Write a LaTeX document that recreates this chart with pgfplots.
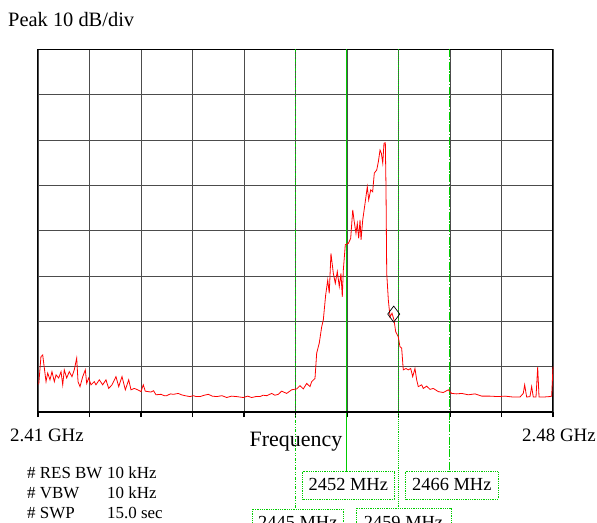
\documentclass[border=0pt]{standalone}
\usepackage{fontspec}
\setmainfont{Liberation Serif}
\usepackage{pgfplots}
\pgfplotsset{compat=1.18}
\definecolor{mkgreen}{RGB}{0,204,0}
\definecolor{trace}{RGB}{255,0,0}

\begin{document}
\begin{tikzpicture}
\useasboundingbox (0,0) rectangle (597bp,-523bp);
\begin{axis}[
    at={(38bp,-412bp)}, anchor=south west,
    scale only axis, width=515bp, height=362.6bp,
    xmin=2410, xmax=2480, ymin=-80, ymax=0,
    xtick={2410,2417,...,2480}, ytick={-80,-70,...,0},
    xticklabels={}, yticklabels={},
    grid=major, grid style={black!70, line width=0.9bp},
    axis line style={black, line width=1bp},
    tick align=outside, xtick pos=left,
    major tick length=5bp,
    xtick style={black, line width=1.6bp},
    ytick style={draw=none},
    clip=false,
    ]
    % marker lines (and their leaders down to the boxes)
    \draw[mkgreen, line width=0.9bp, dash pattern=on 3bp off 1.5bp on 1bp off 1.5bp on 1bp off 1.5bp] (axis cs:2445,0) -- (axis cs:2445,-101.4);
    \draw[mkgreen, line width=1bp] (axis cs:2452,0) -- (axis cs:2452,-93.2);
    \draw[mkgreen, line width=0.9bp, densely dotted] (axis cs:2459,0) -- (axis cs:2459,-101.2);
    \draw[mkgreen, line width=1bp, dash pattern=on 8bp off 1.5bp on 1.5bp off 1.5bp] (axis cs:2466,0) -- (axis cs:2466,-93.2);
    \draw[black, line width=2bp] (axis cs:2410,-80) -- (axis cs:2480,-80);

    \addplot[trace, line width=0.8bp] coordinates {
    (2410.1,-73.9) (2410.4,-67.8) (2410.64,-67.4) (2410.86,-70.3) (2411.09,-73.3)
    (2411.32,-71.4) (2411.63,-72.9) (2411.9,-71.1) (2412.22,-73.3) (2412.45,-71.8)
    (2412.81,-72.5) (2413.13,-71.1) (2413.36,-74.0) (2413.57,-70.7) (2413.9,-72.5)
    (2414.25,-71.1) (2414.62,-72.2) (2414.93,-70.7) (2415.26,-68.1) (2415.44,-73.3)
    (2415.71,-74.4) (2416.08,-72.2) (2416.43,-70.7) (2416.62,-73.7) (2416.89,-72.5)
    (2417.2,-74.0) (2417.65,-73.3) (2417.88,-74.0) (2418.33,-72.9) (2418.79,-74.0)
    (2419.24,-72.9) (2419.61,-74.8) (2420.06,-74.0) (2420.6,-72.2) (2420.97,-74.4)
    (2421.42,-72.2) (2421.87,-75.1) (2422.33,-72.9) (2422.64,-75.1) (2423.09,-74.8)
    (2423.55,-75.1) (2424.0,-75.5) (2424.31,-74.0) (2424.58,-75.4) (2425.36,-75.6)
    (2425.7,-75.3) (2426.04,-76.2) (2426.72,-76.1) (2427.17,-76.4) (2427.49,-76.4)
    (2428.0,-76.0) (2428.39,-76.1) (2429.07,-75.9) (2429.5,-76.2) (2429.98,-76.4)
    (2430.66,-76.6) (2431.11,-76.4) (2431.5,-76.6) (2432.02,-76.6) (2432.6,-76.3)
    (2433.15,-76.1) (2433.7,-76.5) (2434.29,-76.6) (2435.0,-76.4) (2435.65,-76.8)
    (2436.3,-76.5) (2437.01,-76.6) (2437.9,-76.8) (2438.5,-76.5) (2439.05,-76.8)
    (2439.6,-76.6) (2440.17,-76.6) (2440.6,-76.3) (2441.09,-76.4) (2441.76,-75.9)
    (2442.2,-76.3) (2442.66,-76.1) (2443.12,-75.4) (2443.8,-75.9) (2444.48,-75.1)
    (2445.16,-74.9) (2445.61,-74.2) (2446.06,-74.9) (2446.52,-73.7) (2446.97,-74.4)
    (2447.2,-73.3) (2447.65,-72.6) (2447.88,-67.0) (2448.23,-64.8) (2448.56,-61.2)
    (2448.78,-59.7) (2449.1,-54.2) (2449.38,-50.9) (2449.59,-53.8) (2449.82,-45.0)
    (2450.14,-49.4) (2450.41,-51.6) (2450.68,-49.0) (2450.95,-52.3) (2451.18,-49.4)
    (2451.36,-54.6) (2451.5,-48.7) (2451.77,-43.1) (2452.18,-42.8) (2452.5,-41.7)
    (2452.78,-35.4) (2452.95,-37.6) (2453.22,-40.6) (2453.4,-38.4) (2453.59,-41.7)
    (2453.77,-37.6) (2453.91,-42.0) (2454.14,-37.6) (2454.45,-34.0) (2454.76,-30.3)
    (2454.95,-33.2) (2455.22,-31.0) (2455.49,-31.4) (2455.71,-27.3) (2456.04,-26.6)
    (2456.26,-24.8) (2456.49,-22.2) (2456.67,-22.9) (2456.86,-25.1) (2457.03,-20.7)
    (2457.21,-20.6) (2457.3,-30.3) (2457.4,-49.4) (2457.62,-55.3) (2457.85,-59.0)
    (2458.12,-58.2) (2458.39,-59.7) (2458.62,-62.3) (2458.97,-63.4) (2459.2,-65.6)
    (2459.43,-65.9) (2459.65,-70.7) (2460.02,-70.4) (2460.33,-70.7) (2460.66,-70.4)
    (2460.93,-72.2) (2461.24,-70.4) (2461.47,-72.9) (2461.69,-74.4) (2462.15,-74.0)
    (2462.37,-74.8) (2462.83,-74.3) (2463.28,-75.0) (2463.73,-74.8) (2464.41,-75.5)
    (2465.09,-75.7) (2465.77,-75.1) (2466.23,-75.9) (2466.91,-76.0) (2467.59,-75.9)
    (2468.49,-76.2) (2469.4,-76.0) (2470.31,-76.5) (2471.44,-76.5) (2472.56,-76.6)
    (2473.47,-76.5) (2474.6,-76.7) (2475.51,-76.7) (2475.96,-75.9) (2476.15,-74.0)
    (2476.42,-76.7) (2476.87,-76.6) (2477.1,-74.4) (2477.32,-76.7) (2477.69,-76.7)
    (2477.92,-70.1) (2478.1,-76.7) (2478.68,-76.7) (2479.5,-76.6) (2479.82,-76.5)
    (2480.0,-70.0)
    };
    % marker
    \addplot[only marks, mark=diamond, mark size=8bp, black, line width=0.7bp] coordinates {(2458.35,-58.4)};
\end{axis}

\begin{scope}[x=1bp, y=-1bp, every node/.style={inner sep=0pt}]
    \node[anchor=base west, font=\fontsize{20.5}{24}\selectfont] at (8,26) {Peak 10 dB/div};
    \node[anchor=base west, font=\fontsize{19}{22}\selectfont] at (10,441) {2.41 GHz};
    \node[anchor=base east, font=\fontsize{19}{22}\selectfont] at (596,441) {2.48 GHz};
    \node[anchor=base, font=\fontsize{22}{26}\selectfont] at (296,446) {Frequency};

    \node[anchor=base west, font=\fontsize{17}{20}\selectfont] at (27,478.3) {\# RES BW};
    \node[anchor=base west, font=\fontsize{17}{20}\selectfont] at (107,478.3) {10 kHz};
    \node[anchor=base west, font=\fontsize{17}{20}\selectfont] at (27,498.3) {\# VBW};
    \node[anchor=base west, font=\fontsize{17}{20}\selectfont] at (107,498.3) {10 kHz};
    \node[anchor=base west, font=\fontsize{17}{20}\selectfont] at (27,518.3) {\# SWP};
    \node[anchor=base west, font=\fontsize{17}{20}\selectfont] at (107,518.3) {15.0 sec};

    \draw[mkgreen, line width=0.8bp, densely dotted] (302.7,471.7) rectangle (394,499);
    \draw[mkgreen, line width=0.8bp, densely dotted] (405.7,471.7) rectangle (498,499);
    \draw[mkgreen, line width=0.8bp, densely dotted] (252.7,509) rectangle (343,545);
    \draw[mkgreen, line width=0.8bp, densely dotted] (356,508) rectangle (451,545);
    \node[anchor=base, font=\fontsize{18.5}{22}\selectfont] at (348.3,490.7) {2452 MHz};
    \node[anchor=base, font=\fontsize{18.5}{22}\selectfont] at (451.8,490.7) {2466 MHz};
    \node[anchor=base, font=\fontsize{18.5}{22}\selectfont] at (297.8,528.5) {2445 MHz};
    \node[anchor=base, font=\fontsize{18.5}{22}\selectfont] at (403.5,528.5) {2459 MHz};
\end{scope}
\end{tikzpicture}
\end{document}
